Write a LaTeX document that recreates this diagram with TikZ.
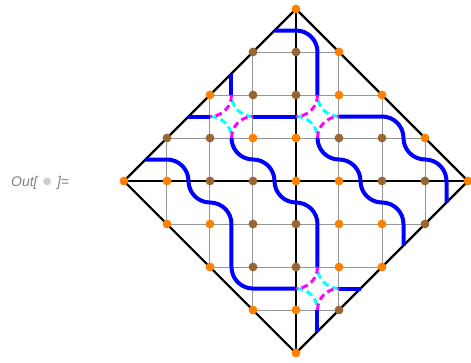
\documentclass[tikz,border=0pt]{standalone}
\usepackage{fontspec}
\setsansfont{Liberation Sans}
\newfontfamily\symfont{DejaVu Sans}
\definecolor{dotorange}{RGB}{255,128,0}
\definecolor{dotbrown}{RGB}{153,102,51}
\definecolor{gridgray}{RGB}{150,150,150}
\definecolor{lblgray}{RGB}{128,128,128}
\definecolor{bulletgray}{RGB}{205,205,205}
\definecolor{tilemag}{RGB}{255,0,255}
\definecolor{tilecyan}{RGB}{0,255,255}
\definecolor{pathblue}{RGB}{0,0,255}
\begin{document}
\begin{tikzpicture}[x=32.25pt,y=32.25pt,
  gridline/.style={draw=gridgray,line width=0.75pt},
  frameline/.style={draw=black,line width=1.6pt},
  bluepath/.style={draw=pathblue,line width=3pt},
  magdash/.style={draw=tilemag,line width=2.2pt,dash pattern=on 5pt off 3pt},
  cyadash/.style={draw=tilecyan,line width=2.2pt,dash pattern=on 5pt off 3pt,dash phase=4pt},
  odot/.style={circle,fill=dotorange,inner sep=0pt,minimum size=6.6pt},
  bdot/.style={circle,fill=dotbrown,inner sep=0pt,minimum size=6.6pt}]
\useasboundingbox (-6.8837,-4.2093) rectangle (4.0698,4.2093);
% gray grid
\foreach \j in {-3,...,3}{
  \pgfmathtruncatemacro\w{4-abs(\j)}
  \draw[gridline] (-\w,\j) -- (\w,\j);
  \draw[gridline] (\j,-\w) -- (\j,\w);
}
% black frame and axes
\draw[frameline] (0,4) -- (4,0) -- (0,-4) -- (-4,0) -- cycle;
\draw[frameline] (-4,0) -- (4,0);
\draw[frameline] (0,-4) -- (0,4);
% blue paths
\draw[bluepath] (-0.5,3.5) -- (0,3.5) arc[start angle=90,end angle=0,radius=0.5] -- (0.5,2);
\draw[bluepath] (-1.5,2.5) -- (-1.5,2);
\draw[bluepath] (-2.5,1.5) -- (-2,1.5);
\draw[bluepath] (-1,1.5) -- (0,1.5);
\draw[bluepath] (-1.5,1) arc[start angle=180,end angle=270,radius=0.5]
  arc[start angle=90,end angle=0,radius=0.5]
  arc[start angle=180,end angle=270,radius=0.5]
  arc[start angle=90,end angle=0,radius=0.5] -- (0.5,-2);
\draw[bluepath] (0.5,1) arc[start angle=180,end angle=270,radius=0.5]
  arc[start angle=90,end angle=0,radius=0.5]
  arc[start angle=180,end angle=270,radius=0.5]
  arc[start angle=90,end angle=0,radius=0.5] -- (2.5,-1.5);
\draw[bluepath] (1,1.5) -- (2,1.5) arc[start angle=90,end angle=0,radius=0.5]
  arc[start angle=180,end angle=270,radius=0.5]
  arc[start angle=90,end angle=0,radius=0.5] -- (3.5,-0.5);
\draw[bluepath] (-3.5,0.5) -- (-3,0.5) arc[start angle=90,end angle=0,radius=0.5]
  arc[start angle=180,end angle=270,radius=0.5]
  arc[start angle=90,end angle=0,radius=0.5] -- (-1.5,-2)
  arc[start angle=180,end angle=270,radius=0.5] -- (0,-2.5);
\draw[bluepath] (1,-2.5) -- (1.5,-2.5);
\draw[bluepath] (0.5,-3) -- (0.5,-3.5);
% dashed crossing tiles
\foreach \a/\b in {-2/1,0/1,0/-3}{
  \begin{scope}[shift={(\a,\b)}]
    \draw[cyadash] (0.5,1) arc[start angle=180,end angle=270,radius=0.5];
    \draw[cyadash] (0.5,0) arc[start angle=0,end angle=90,radius=0.5];
    \draw[magdash] (0.5,1) arc[start angle=0,end angle=-90,radius=0.5];
    \draw[magdash] (0.5,0) arc[start angle=180,end angle=90,radius=0.5];
  \end{scope}
}
% dots
\foreach \x/\y in {0/4,1/3,-2/2,1/2,2/2,-1/1,0/1,3/1,-4/0,-3/0,0/0,1/0,4/0,-3/-1,-2/-1,1/-1,2/-1,-2/-2,1/-2,2/-2,-1/-3,0/-3,0/-4}
  \node[odot] (d\x\y) at (\x,\y) {};
\foreach \x/\y in {-1/3,0/3,-1/2,0/2,-3/1,-2/1,1/1,2/1,-2/0,-1/0,2/0,3/0,-1/-1,0/-1,3/-1,-1/-2,0/-2,1/-3}
  \node[bdot] (d\x\y) at (\x,\y) {};
% output label
\node[font=\sffamily\itshape\fontsize{10.5}{12}\selectfont,text=lblgray,anchor=west,inner sep=0pt]
  (outlbl) at (-6.63,-0.04) {Out[\hspace{4pt}\raisebox{1.2pt}{\symfont\upshape\color{bulletgray}\fontsize{7.5}{8}\selectfont ●}\hspace{4pt}]=};
\end{tikzpicture}
\end{document}
